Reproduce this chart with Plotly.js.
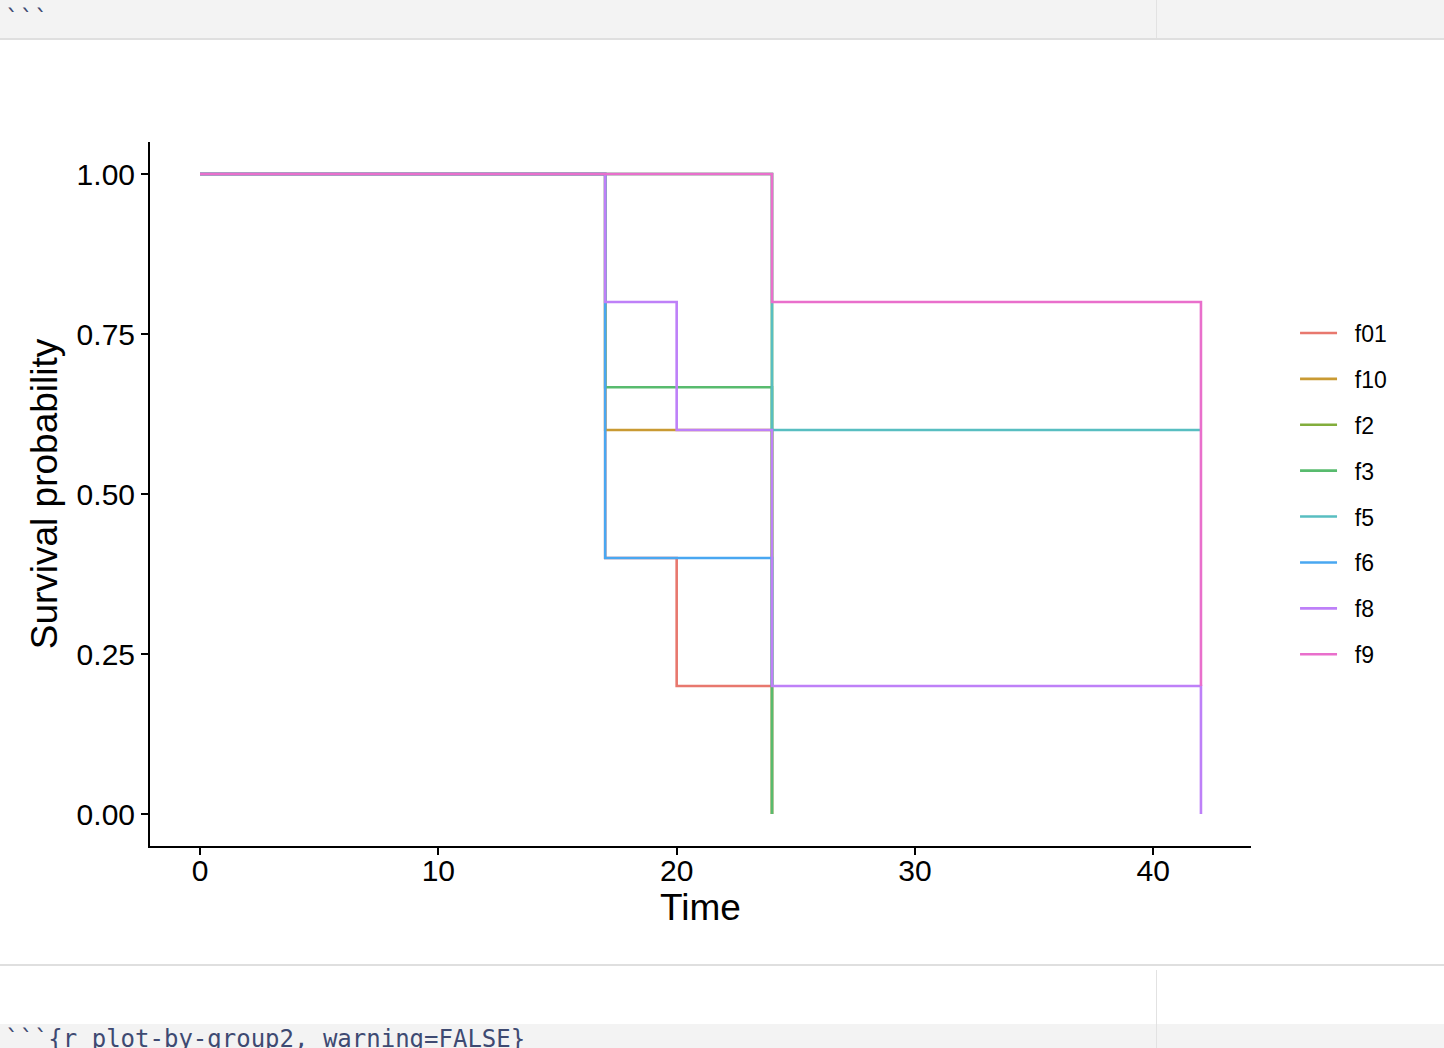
<!DOCTYPE html>
<html>
<head>
<meta charset="utf-8">
<script src="https://cdn.plot.ly/plotly-3.0.1.min.js"></script>
<style>
  html, body { margin: 0; padding: 0; background: #fff; }
  body { width: 1444px; height: 1048px; position: relative; overflow: hidden; }
  #plot { position: absolute; left: 0; top: 0; width: 1444px; height: 1048px; }
  .bar { position: absolute; left: 0; width: 1444px; background: #f3f3f3; z-index: 2; }
  .vline { position: absolute; left: 1156px; width: 1px; background: #e2e2e2; z-index: 3; }
  .hline { position: absolute; left: 0; width: 1444px; height: 2px; background: #dfdfdf; z-index: 3; }
  .code { position: absolute; left: 5px; font-family: "DejaVu Sans Mono", monospace; font-size: 24px; line-height: 28px; color: #3e4a72; z-index: 4; white-space: pre; }
</style>
</head>
<body>
<div class="bar" style="top:0; height:38px;"></div>
<div class="hline" style="top:38px;"></div>
<div class="vline" style="top:0; height:38px;"></div>
<div class="code" style="top:5px;">```</div>

<div class="hline" style="top:964px;"></div>
<div class="vline" style="top:970px; height:78px;"></div>
<div class="bar" style="top:1024px; height:24px;"></div>
<div class="code" style="top:1025px;">```{r plot-by-group2, warning=FALSE}</div>

<div id="plot"></div>
<script>
// Kaplan-Meier step curves
const groups = ['f01', 'f10', 'f2', 'f3', 'f5', 'f6', 'f8', 'f9'];

const timeF01 = [0, 17, 20, 24];
const survF01 = [1, 0.4, 0.2, 0];
const timeF10 = [0, 17, 24];
const survF10 = [1, 0.6, 0.2];
const timeF2 = [0, 24];
const survF2 = [1, 0];
const timeF3 = [0, 17, 24];
const survF3 = [1, 0.6667, 0];
const timeF5 = [0, 24, 42];
const survF5 = [1, 0.6, 0.6];
const timeF6 = [0, 17, 24];
const survF6 = [1, 0.4, 0.2];
const timeF8 = [0, 17, 20, 24, 42];
const survF8 = [1, 0.8, 0.6, 0.2, 0];
const timeF9 = [0, 24, 42];
const survF9 = [1, 0.8, 0.2];

const xTicks = [0, 10, 20, 30, 40];
const yTicks = [0, 0.25, 0.5, 0.75, 1];
const yTickLabels = ['0.00', '0.25', '0.50', '0.75', '1.00'];

const times = [timeF01, timeF10, timeF2, timeF3, timeF5, timeF6, timeF8, timeF9];
const survs = [survF01, survF10, survF2, survF3, survF5, survF6, survF8, survF9];
const colors = ['#E8786E', '#C99A33', '#82AD3C', '#58BB6E', '#58BEC1', '#49A7F1', '#BE80F8', '#E96FCC'];

const traces = groups.map((g, i) => ({
  x: times[i],
  y: survs[i],
  // non-breaking spaces push the label away from the key line
  name: '\u00A0\u00A0' + g,
  legendgroup: g,
  type: 'scatter',
  mode: 'lines',
  line: { shape: 'hv', color: colors[i], width: 2.6 },
  hoverinfo: 'x+y+name',
}));

const axisFont = { family: 'Liberation Sans, Arial, sans-serif', size: 30, color: '#000' };
const titleFont = { family: 'Liberation Sans, Arial, sans-serif', size: 37, color: '#000' };

const layout = {
  width: 1444,
  height: 1048,
  margin: { l: 150, r: 193, t: 142, b: 202 },
  paper_bgcolor: 'rgba(0,0,0,0)',
  plot_bgcolor: 'rgba(0,0,0,0)',
  xaxis: {
    range: [-2.1, 44.1],
    tickvals: xTicks,
    tickfont: axisFont,
    showline: true,
    linecolor: '#000',
    linewidth: 2,
    ticks: 'outside',
    ticklen: 7,
    tickwidth: 2,
    tickcolor: '#000',
    ticklabelstandoff: -10,
    showgrid: false,
    zeroline: false,
    title: { text: 'Time', font: titleFont, standoff: 8 },
  },
  yaxis: {
    range: [-0.05, 1.05],
    tickvals: yTicks,
    ticktext: yTickLabels,
    tickfont: axisFont,
    showline: true,
    linecolor: '#000',
    linewidth: 2,
    ticks: 'outside',
    ticklen: 7,
    tickwidth: 2,
    tickcolor: '#000',
    showgrid: false,
    zeroline: false,
    title: { text: 'Survival probability', font: titleFont, standoff: 8 },
  },
  showlegend: true,
  legend: {
    x: 1.040,
    xanchor: 'left',
    y: 0.5,
    yanchor: 'middle',
    font: { family: 'Liberation Sans, Arial, sans-serif', size: 23, color: '#000' },
    itemwidth: 37,
    tracegroupgap: 13,
    traceorder: 'grouped',
    bgcolor: 'rgba(0,0,0,0)',
  },
  dragmode: false,
};

Plotly.newPlot('plot', traces, layout, { displayModeBar: false, staticPlot: true });
</script>
</body>
</html>
